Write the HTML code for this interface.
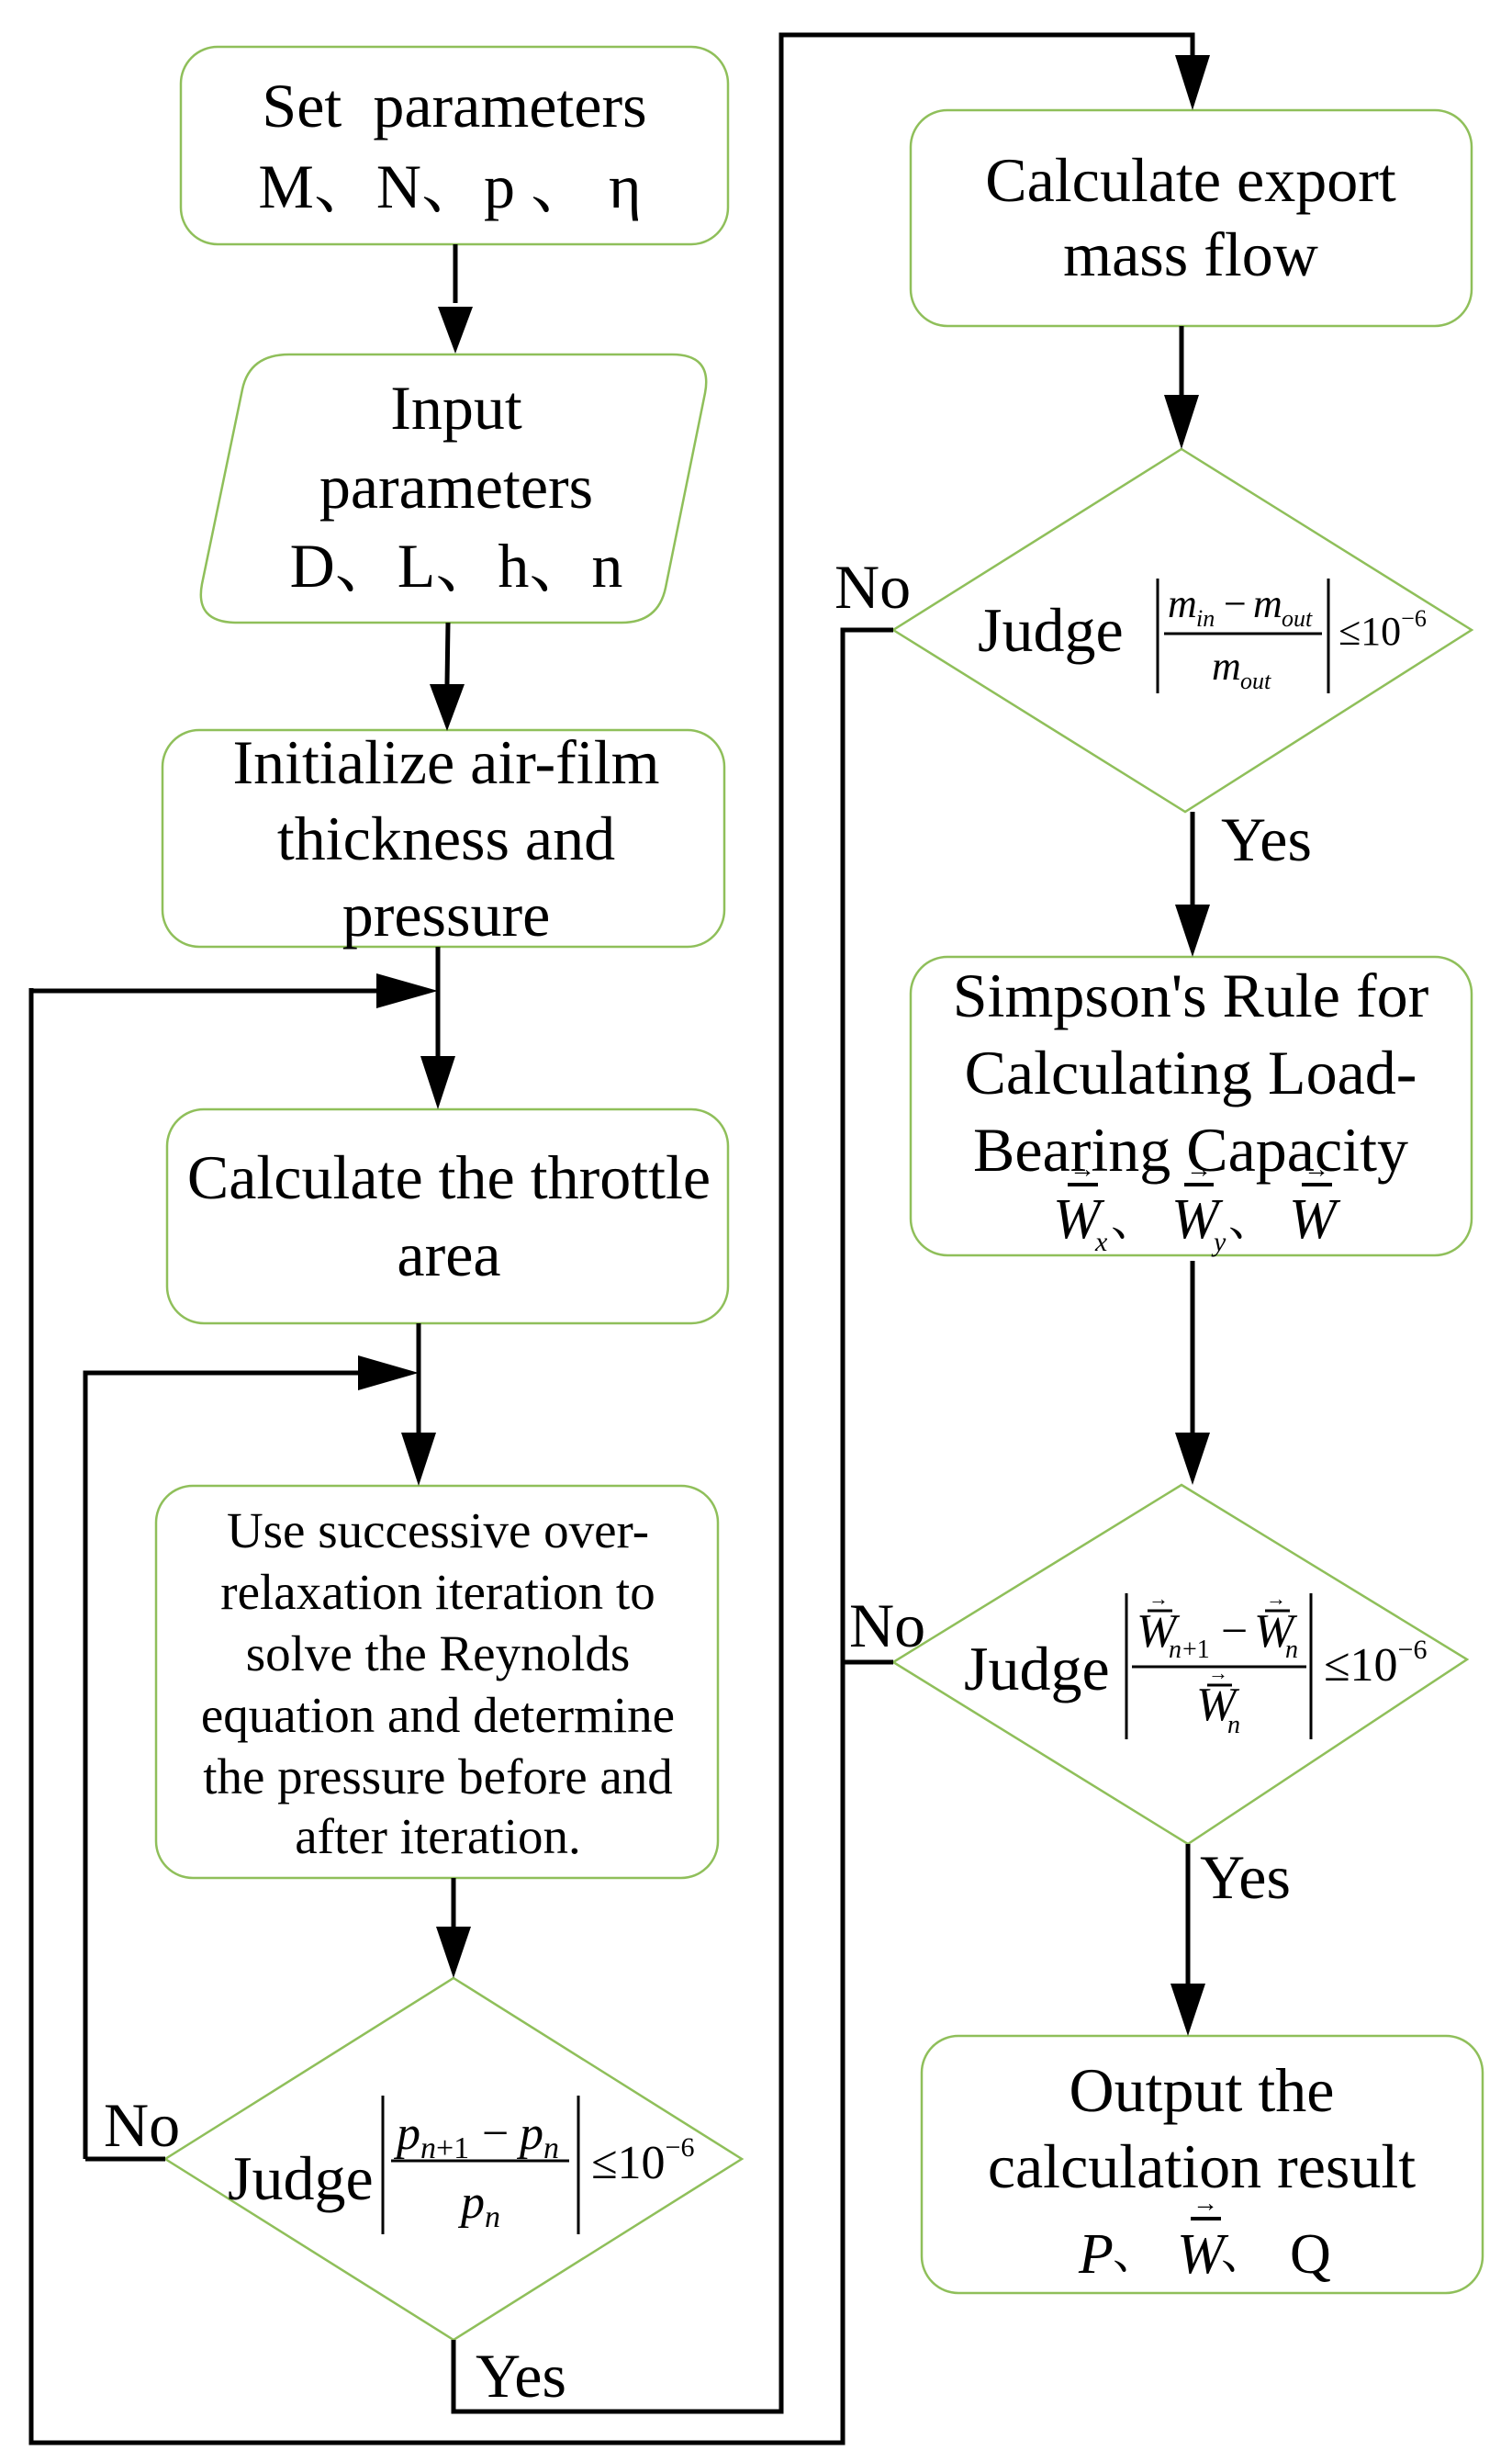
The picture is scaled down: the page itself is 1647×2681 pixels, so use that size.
<!DOCTYPE html>
<html><head><meta charset="utf-8"><style>
html,body{margin:0;padding:0;background:#fff}
svg{display:block}
text{font-family:"Liberation Serif","Noto Serif CJK SC",serif;fill:#000;white-space:pre}
.t{font-size:68px}
.s{font-size:55px}
.i{font-style:italic}
</style></head><body>
<svg width="1647" height="2681" viewBox="0 0 1647 2681" xmlns="http://www.w3.org/2000/svg" xml:space="preserve">
<g fill="none" stroke="#8fbf5a" stroke-width="2.5">
<rect x="197" y="51" width="596" height="215" rx="40"/>
<path d="M315 386 H732 Q776 386 768 428 L725 640 Q717 678 677 678 H258 Q212 678 220 636 L264 424 Q272 386 315 386 Z"/>
<rect x="177" y="795" width="612" height="236" rx="40"/>
<rect x="182" y="1208" width="611" height="233" rx="40"/>
<rect x="170" y="1618" width="612" height="427" rx="40"/>
<polygon points="494,2154 808,2351 494,2548 180,2351"/>
<rect x="992" y="120" width="611" height="235" rx="40"/>
<polygon points="1287,489 1603,686 1291,884 973,686"/>
<rect x="992" y="1042" width="611" height="325" rx="40"/>
<polygon points="1287,1617 1598,1807 1294,2008 973,1810"/>
<rect x="1004" y="2217" width="611" height="280" rx="40"/>
</g>
<g fill="none" stroke="#000" stroke-width="5">
<path d="M496 266 V330"/>
<path d="M488 678 L487 745"/>
<path d="M477 1031 V1150"/>
<path d="M34 1079 H440 M34 1076 V2660 H918 V686 H973"/>
<path d="M456 1441 V1560"/>
<path d="M93 2351 V1495 H420 M93 2351 H180"/>
<path d="M494 2045 V2100"/>
<path d="M494 2548 V2626 H851 V38 H1299 V65"/>
<path d="M1287 355 V430"/>
<path d="M1299 884 V985"/>
<path d="M1299 1373 V1560"/>
<path d="M918 1810 H973"/>
<path d="M1294 2008 V2160"/>
</g>
<g fill="#000">
<polygon points="477,334 515,334 496,385"/>
<polygon points="468,745 506,745 487,796"/>
<polygon points="458,1150 496,1150 477,1208"/>
<polygon points="410,1060 410,1098 477,1079"/>
<polygon points="437,1560 475,1560 456,1618"/>
<polygon points="390,1476 390,1514 456,1495"/>
<polygon points="475,2098 513,2098 494,2154"/>
<polygon points="1280,60 1318,60 1299,120"/>
<polygon points="1268,430 1306,430 1287,489"/>
<polygon points="1280,985 1318,985 1299,1042"/>
<polygon points="1280,1560 1318,1560 1299,1617"/>
<polygon points="1275,2160 1313,2160 1294,2217"/>
</g>
<text class="t" x="495" y="138" text-anchor="middle">Set  parameters</text>
<text class="t" x="490" y="226" text-anchor="middle">M、N、p 、 η</text>
<text class="t" x="497" y="467" text-anchor="middle">Input</text>
<text class="t" x="497" y="553" text-anchor="middle">parameters</text>
<text class="t" x="497" y="639" text-anchor="middle">D、L、h、n</text>
<text class="t" x="486" y="853" text-anchor="middle">Initialize air-film</text>
<text class="t" x="486" y="936" text-anchor="middle">thickness and</text>
<text class="t" x="486" y="1019" text-anchor="middle">pressure</text>
<text class="t" x="489" y="1305" text-anchor="middle">Calculate the throttle</text>
<text class="t" x="489" y="1389" text-anchor="middle">area</text>
<g class="s" text-anchor="middle">
<text x="477" y="1685">Use successive over-</text>
<text x="477" y="1752">relaxation iteration to</text>
<text x="477" y="1819">solve the Reynolds</text>
<text x="477" y="1886">equation and determine</text>
<text x="477" y="1953">the pressure before and</text>
<text x="477" y="2018">after iteration.</text>
</g>
<text class="t" x="248" y="2395">Judge</text>
<path d="M417 2282 V2433 M630 2282 V2433 M426 2353 H620" stroke="#000" stroke-width="3"/>
<text x="432" y="2340" font-size="52" class="i">p</text><text x="458" y="2350" font-size="34" class="i">n</text><text x="475" y="2350" font-size="34">+1</text>
<text x="525" y="2340" font-size="52">−</text><text x="566" y="2340" font-size="52" class="i">p</text><text x="592" y="2350" font-size="34" class="i">n</text>
<text x="502" y="2415" font-size="52" class="i">p</text><text x="528" y="2425" font-size="34" class="i">n</text>
<text x="644" y="2372" font-size="52">≤10<tspan dy="-24" font-size="30">−6</tspan></text>
<text class="t" x="113" y="2337">No</text>
<text class="t" x="518" y="2610">Yes</text>
<text class="t" x="1297" y="219" text-anchor="middle">Calculate export</text>
<text class="t" x="1297" y="300" text-anchor="middle">mass flow</text>
<text class="t" x="909" y="662">No</text>
<text class="t" x="1065" y="709">Judge</text>
<path d="M1261 630 V755 M1447 630 V755 M1268 690 H1440" stroke="#000" stroke-width="3"/>
<text x="1272" y="672" font-size="44" class="i">m</text><text x="1303" y="682" font-size="26" class="i">in</text>
<text x="1333" y="672" font-size="44">−</text><text x="1365" y="672" font-size="44" class="i">m</text><text x="1396" y="682" font-size="26" class="i">out</text>
<text x="1320" y="740" font-size="44" class="i">m</text><text x="1351" y="750" font-size="26" class="i">out</text>
<text x="1458" y="702" font-size="44">≤10<tspan dy="-20" font-size="26">−6</tspan></text>
<text class="t" x="1330" y="937">Yes</text>
<g class="t" text-anchor="middle">
<text x="1297" y="1107">Simpson's Rule for</text>
<text x="1297" y="1191">Calculating Load-</text>
<text x="1297" y="1275">Bearing Capacity</text>
</g>
<g>
<text x="1147" y="1348" font-size="62" class="i">W</text><text x="1193" y="1362" font-size="30" class="i">x</text><text x="1210" y="1345" font-size="50">、</text>
<text x="1276" y="1348" font-size="62" class="i">W</text><text x="1322" y="1362" font-size="30" class="i">y</text><text x="1338" y="1345" font-size="50">、</text>
<text x="1404" y="1348" font-size="62" class="i">W</text>
<path d="M1163 1290 H1196 M1290 1290 H1322 M1418 1290 H1451" stroke="#000" stroke-width="4"/>
<text x="1165" y="1282" font-size="28">→</text><text x="1292" y="1282" font-size="28">→</text><text x="1420" y="1282" font-size="28">→</text>
</g>
<text class="t" x="925" y="1793">No</text>
<text class="t" x="1050" y="1840">Judge</text>
<path d="M1227 1735 V1894 M1428 1735 V1894 M1233 1815 H1423" stroke="#000" stroke-width="3"/>
<text x="1238" y="1793" font-size="52" class="i">W</text><text x="1273" y="1805" font-size="28" class="i">n</text><text x="1288" y="1805" font-size="28">+1</text>
<text x="1330" y="1793" font-size="52">−</text><text x="1366" y="1793" font-size="52" class="i">W</text><text x="1400" y="1805" font-size="28" class="i">n</text>
<text x="1303" y="1873" font-size="52" class="i">W</text><text x="1337" y="1887" font-size="28" class="i">n</text>
<path d="M1250 1754 H1277 M1378 1754 H1405 M1315 1835 H1342" stroke="#000" stroke-width="3"/>
<text x="1251" y="1748" font-size="22">→</text><text x="1379" y="1748" font-size="22">→</text><text x="1316" y="1829" font-size="22">→</text>
<text x="1442" y="1830" font-size="52">≤10<tspan dy="-24" font-size="30">−6</tspan></text>
<text class="t" x="1307" y="2067">Yes</text>
<text class="t" x="1309" y="2299" text-anchor="middle">Output the</text>
<text class="t" x="1309" y="2382" text-anchor="middle">calculation result</text>
<text x="1175" y="2475" font-size="62" class="i">P</text><text x="1212" y="2470" font-size="50">、</text>
<text x="1282" y="2475" font-size="62" class="i">W</text><text x="1330" y="2470" font-size="50">、</text><text x="1405" y="2475" font-size="62">Q</text>
<path d="M1297 2416 H1330" stroke="#000" stroke-width="4"/><text x="1299" y="2408" font-size="28">→</text>
</svg>
</body></html>
